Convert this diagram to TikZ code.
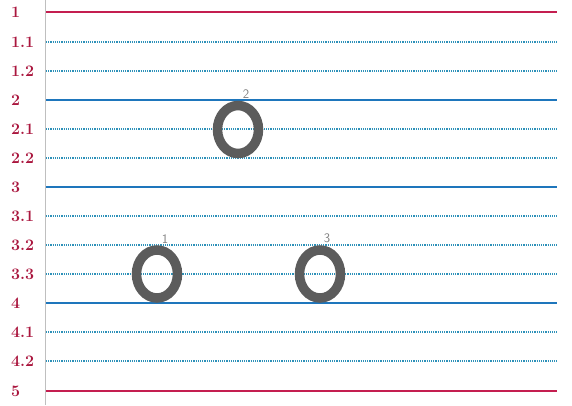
\documentclass[tikz,border=0pt]{standalone}
\usepackage{fontspec}
\usepackage{tikz}
\usetikzlibrary{positioning,shapes.geometric}
\definecolor{marginred}{RGB}{196,30,80}
\definecolor{labelred}{RGB}{170,22,62}
\definecolor{mainblue}{RGB}{30,118,188}
\definecolor{subblue}{RGB}{45,145,185}
\definecolor{ringgray}{RGB}{92,92,92}

\begin{document}
\begin{tikzpicture}[
    x=1pt, y=-1pt,
    redline/.style={marginred, line width=1.8pt},
    mainline/.style={mainblue, line width=1.6pt},
    subline/.style={subblue, line width=1.2pt, dash pattern=on 1.2pt off 1pt},
    lbl/.style={anchor=west, inner sep=0pt, text=labelred, font=\fontsize{16}{18}\selectfont\bfseries},
    ring/.style={ellipse, draw=ringgray, line width=9.5pt, minimum width=41pt, minimum height=48pt, inner sep=0pt},
    num/.style={inner sep=1pt, text=black!50, font=\fontsize{13}{15}\selectfont\sffamily}
]
\useasboundingbox (0,0) rectangle (572,405);
% margin
\draw[black!25, line width=0.6pt] (45,0) -- (45,405);
% ruled lines with their labels
\foreach \lab/\y/\sty [count=\i] in {1/12/redline, 1.1/42/subline, 1.2/71/subline,
    2/100/mainline, 2.1/129/subline, 2.2/158/subline,
    3/187/mainline, 3.1/216/subline, 3.2/245/subline, 3.3/274/subline,
    4/303/mainline, 4.1/332/subline, 4.2/361/subline, 5/391/redline}{
  \node[lbl] (lab\i) at (11,\y) {\lab};
  \draw[\sty] (46,\y) -- (557,\y);
}
% the three rings
\node[ring] (ringone) at (157,274) {};
\node[ring] (ringtwo) at (238,129.5) {};
\node[ring] (ringthree) at (320,274) {};
\node[num, above=1pt of ringone.north, xshift=8pt] (numone) {1};
\node[num, above=1pt of ringtwo.north, xshift=8pt] (numtwo) {2};
\node[num, above=1pt of ringthree.north, xshift=7pt] (numthree) {3};
\end{tikzpicture}
\end{document}
